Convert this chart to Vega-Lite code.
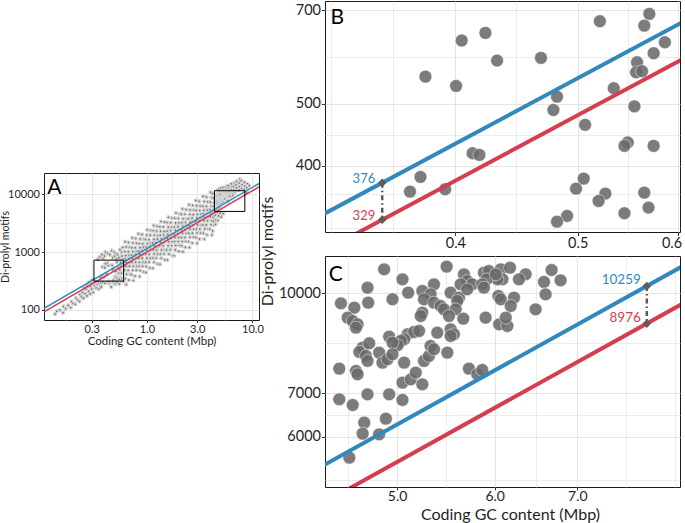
{
"$schema": "https://vega.github.io/schema/vega-lite/v6.json",
"padding": {"left": 0, "top": 0, "right": 0, "bottom": 0},
"autosize": {"type": "pad"},
"background": "white",
"config": {
  "font": "Lato",
  "view": {"stroke": "#1a1a1a", "strokeWidth": 1},
  "axis": {"domain": false, "grid": true, "gridColor": "#e4e4e4", "tickColor": "#333333", "tickWidth": 1, "labelColor": "#1f1f1f", "titleColor": "#1f1f1f", "titleFontWeight": "normal", "labelFont": "Lato", "titleFont": "Lato", "labelOverlap": false, "labelFlush": false},
  "text": {"font": "Lato"}
},
"datasets": {
  "ptsA": [
    {"x":0.135,"y":85},{"x":0.14,"y":95},{"x":0.15,"y":100},{"x":0.16,"y":90},{"x":0.162,"y":115},{"x":0.17,"y":105},{"x":0.18,"y":120},{"x":0.19,"y":110},{"x":0.193,"y":140},{"x":0.2,"y":130},{"x":0.21,"y":125},{"x":0.213,"y":160},{"x":0.22,"y":150},{"x":0.23,"y":140},{"x":0.232,"y":185},{"x":0.24,"y":170},{"x":0.25,"y":160},{"x":0.247,"y":200},{"x":0.253,"y":240},{"x":0.26,"y":190},{"x":0.264,"y":230},{"x":0.27,"y":175},{"x":0.272,"y":260},{"x":0.28,"y":210},{"x":0.283,"y":300},{"x":0.29,"y":190},{"x":0.292,"y":250},{"x":0.3,"y":230},{"x":0.297,"y":280},{"x":0.303,"y":330},{"x":0.31,"y":200},{"x":0.312,"y":300},{"x":0.32,"y":260},{"x":0.325,"y":300},{"x":0.33,"y":240},{"x":0.334,"y":290},{"x":0.34,"y":280},{"x":0.345,"y":760},{"x":0.35,"y":230},{"x":0.353,"y":300},{"x":0.357,"y":820},{"x":0.36,"y":270},{"x":0.366,"y":290},{"x":0.37,"y":250},{"x":0.374,"y":900},{"x":0.38,"y":300},{"x":0.386,"y":780},{"x":0.4,"y":290},{"x":0.396,"y":850},{"x":0.405,"y":1000},{"x":0.42,"y":300},{"x":0.425,"y":950},{"x":0.44,"y":290},{"x":0.436,"y":310},{"x":0.445,"y":900},{"x":0.46,"y":250},{"x":0.465,"y":1050},{"x":0.48,"y":300},{"x":0.475,"y":800},{"x":0.486,"y":1000},{"x":0.5,"y":280},{"x":0.495,"y":850},{"x":0.505,"y":950},{"x":0.52,"y":300},{"x":0.515,"y":760},{"x":0.526,"y":900},{"x":0.55,"y":280},{"x":0.545,"y":800},{"x":0.556,"y":1100},{"x":0.58,"y":850},{"x":0.575,"y":1000},{"x":0.6,"y":310},{"x":0.595,"y":750},{"x":0.59,"y":1200},
    {"x":0.638,"y":276},{"x":0.626,"y":348},{"x":0.643,"y":413},{"x":0.616,"y":485},{"x":0.633,"y":571},{"x":0.64,"y":656},{"x":0.624,"y":754},{"x":0.63,"y":866},{"x":0.619,"y":1017},{"x":0.636,"y":1220},{"x":0.621,"y":1502},
    {"x":0.675,"y":328},{"x":0.694,"y":413},{"x":0.665,"y":484},{"x":0.683,"y":570},{"x":0.691,"y":662},{"x":0.673,"y":762},{"x":0.68,"y":876},{"x":0.668,"y":1011},{"x":0.686,"y":1210},{"x":0.67,"y":1460},
    {"x":0.745,"y":322},{"x":0.714,"y":407},{"x":0.734,"y":483},{"x":0.742,"y":568},{"x":0.723,"y":667},{"x":0.73,"y":767},{"x":0.717,"y":882},{"x":0.737,"y":1012},{"x":0.719,"y":1189},{"x":0.739,"y":1427},{"x":0.725,"y":1756},
    {"x":0.773,"y":384},{"x":0.794,"y":484},{"x":0.803,"y":567},{"x":0.782,"y":667},{"x":0.79,"y":776},{"x":0.776,"y":892},{"x":0.797,"y":1026},{"x":0.778,"y":1184},{"x":0.799,"y":1418},{"x":0.784,"y":1710},
    {"x":0.854,"y":378},{"x":0.864,"y":478},{"x":0.842,"y":568},{"x":0.85,"y":667},{"x":0.835,"y":784},{"x":0.858,"y":901},{"x":0.837,"y":1036},{"x":0.86,"y":1189},{"x":0.844,"y":1397},{"x":0.867,"y":1676},{"x":0.831,"y":2063},
    {"x":0.935,"y":451},{"x":0.911,"y":568},{"x":0.92,"y":666},{"x":0.903,"y":784},{"x":0.928,"y":911},{"x":0.906,"y":1049},{"x":0.931,"y":1205},{"x":0.914,"y":1392},{"x":0.938,"y":1666},{"x":0.9,"y":2009},
    {"x":0.98,"y":445},{"x":0.99,"y":561},{"x":0.972,"y":667},{"x":0.999,"y":784},{"x":0.975,"y":921},{"x":1.002,"y":1059},{"x":0.983,"y":1218},{"x":1.01,"y":1398},{"x":0.968,"y":1641},{"x":0.995,"y":1970},{"x":1.006,"y":2425},
    {"x":1.07,"y":529},{"x":1.051,"y":666},{"x":1.08,"y":781},{"x":1.054,"y":919},{"x":1.083,"y":1069},{"x":1.063,"y":1229},{"x":1.091,"y":1413},{"x":1.046,"y":1632},{"x":1.075,"y":1953},{"x":1.087,"y":2355},
    {"x":1.139,"y":526},{"x":1.17,"y":664},{"x":1.143,"y":789},{"x":1.174,"y":926},{"x":1.152,"y":1089},{"x":1.183,"y":1252},{"x":1.134,"y":1440},{"x":1.166,"y":1653},{"x":1.179,"y":1941},{"x":1.148,"y":2329},{"x":1.16,"y":2867},
    {"x":1.261,"y":623},{"x":1.231,"y":786},{"x":1.265,"y":921},{"x":1.241,"y":1084},{"x":1.275,"y":1260},{"x":1.223,"y":1450},{"x":1.256,"y":1667},{"x":1.27,"y":1924},{"x":1.238,"y":2304},{"x":1.25,"y":2778},
    {"x":1.33,"y":617},{"x":1.366,"y":779},{"x":1.341,"y":926},{"x":1.377,"y":1088},{"x":1.32,"y":1279},{"x":1.357,"y":1470},{"x":1.372,"y":1691},{"x":1.337,"y":1940},{"x":1.35,"y":2279},{"x":1.326,"y":2734},{"x":1.362,"y":3366},
    {"x":1.478,"y":735},{"x":1.45,"y":926},{"x":1.489,"y":1086},{"x":1.428,"y":1278},{"x":1.467,"y":1485},{"x":1.483,"y":1709},{"x":1.445,"y":1964},{"x":1.46,"y":2268},{"x":1.434,"y":2715},{"x":1.473,"y":3274},
    {"x":1.569,"y":729},{"x":1.612,"y":920},{"x":1.545,"y":1094},{"x":1.588,"y":1285},{"x":1.605,"y":1510},{"x":1.564,"y":1736},{"x":1.58,"y":1996},{"x":1.552,"y":2292},{"x":1.594,"y":2691},{"x":1.556,"y":3229},{"x":1.599,"y":3975},
    {"x":1.744,"y":868},{"x":1.672,"y":1095},{"x":1.719,"y":1284},{"x":1.737,"y":1510},{"x":1.693,"y":1756},{"x":1.71,"y":2020},{"x":1.679,"y":2322},{"x":1.725,"y":2681},{"x":1.684,"y":3210},{"x":1.731,"y":3870},
    {"x":1.809,"y":861},{"x":1.859,"y":1087},{"x":1.88,"y":1292},{"x":1.832,"y":1518},{"x":1.85,"y":1784},{"x":1.817,"y":2051},{"x":1.867,"y":2359},{"x":1.822,"y":2707},{"x":1.872,"y":3179},{"x":1.837,"y":3815},{"x":1.887,"y":4697},
    {"x":2.01,"y":1025},{"x":2.032,"y":1292},{"x":1.98,"y":1515},{"x":2.0,"y":1782},{"x":1.964,"y":2072},{"x":2.018,"y":2384},{"x":1.97,"y":2740},{"x":2.024,"y":3164},{"x":1.986,"y":3788},{"x":2.04,"y":4567},
    {"x":2.195,"y":1015},{"x":2.138,"y":1281},{"x":2.16,"y":1523},{"x":2.121,"y":1789},{"x":2.179,"y":2103},{"x":2.128,"y":2417},{"x":2.186,"y":2780},{"x":2.145,"y":3190},{"x":2.203,"y":3746},{"x":2.112,"y":4496},{"x":2.171,"y":5535},
    {"x":2.317,"y":1210},{"x":2.34,"y":1525},{"x":2.298,"y":1788},{"x":2.361,"y":2104},{"x":2.305,"y":2446},{"x":2.368,"y":2814},{"x":2.324,"y":3235},{"x":2.387,"y":3735},{"x":2.289,"y":4471},{"x":2.352,"y":5392},
    {"x":2.53,"y":1200},{"x":2.484,"y":1514},{"x":2.553,"y":1800},{"x":2.492,"y":2114},{"x":2.56,"y":2486},{"x":2.512,"y":2857},{"x":2.581,"y":3286},{"x":2.474,"y":3771},{"x":2.543,"y":4428},{"x":2.57,"y":5314},{"x":2.505,"y":6543},
    {"x":2.691,"y":1430},{"x":2.765,"y":1803},{"x":2.699,"y":2114},{"x":2.773,"y":2487},{"x":2.721,"y":2891},{"x":2.795,"y":3327},{"x":2.68,"y":3824},{"x":2.754,"y":4415},{"x":2.784,"y":5285},{"x":2.713,"y":6373},
    {"x":2.987,"y":1417},{"x":2.916,"y":1788},{"x":2.996,"y":2125},{"x":2.939,"y":2496},{"x":3.019,"y":2935},{"x":2.895,"y":3373},{"x":2.975,"y":3879},{"x":3.007,"y":4452},{"x":2.93,"y":5228},{"x":2.96,"y":6274},{"x":2.907,"y":7724},
    {"x":3.152,"y":1685},{"x":3.238,"y":2125},{"x":3.178,"y":2491},{"x":3.264,"y":2930},{"x":3.13,"y":3407},{"x":3.216,"y":3919},{"x":3.251,"y":4505},{"x":3.168,"y":5201},{"x":3.2,"y":6227},{"x":3.142,"y":7509},
    {"x":3.502,"y":1671},{"x":3.436,"y":2109},{"x":3.529,"y":2507},{"x":3.384,"y":2944},{"x":3.477,"y":3462},{"x":3.515,"y":3979},{"x":3.425,"y":4576},{"x":3.46,"y":5252},{"x":3.398,"y":6167},{"x":3.491,"y":7401},{"x":3.408,"y":9112},
    {"x":3.714,"y":1987},{"x":3.815,"y":2506},{"x":3.658,"y":2938},{"x":3.759,"y":3456},{"x":3.8,"y":4018},{"x":3.703,"y":4622},{"x":3.74,"y":5314},{"x":3.673,"y":6134},{"x":3.774,"y":7344},{"x":3.684,"y":8856},
    {"x":4.121,"y":1969},{"x":3.951,"y":2484},{"x":4.06,"y":2953},{"x":4.105,"y":3468},{"x":4.0,"y":4078},{"x":4.04,"y":4687},{"x":3.967,"y":5390},{"x":4.076,"y":6187},{"x":3.979,"y":7265},{"x":4.088,"y":8718},{"x":4.012,"y":10733},
    {"x":4.205,"y":2303},{"x":4.32,"y":2904},{"x":4.3,"y":3405},{"x":4.257,"y":4006},{"x":4.223,"y":4657},{"x":4.339,"y":5357},{"x":4.236,"y":6159},{"x":4.3,"y":7110},{"x":4.27,"y":8512},{"x":4.214,"y":10264},
    {"x":4.47,"y":3000},{"x":4.52,"y":3600},{"x":4.44,"y":4300},{"x":4.58,"y":4900},
    {"x":4.7,"y":3500},{"x":4.78,"y":4200},{"x":4.66,"y":4800},{"x":4.75,"y":12000},
    {"x":5.05,"y":4000},{"x":4.95,"y":4700},{"x":5.02,"y":11800},{"x":4.98,"y":12600},
    {"x":5.28,"y":4600},{"x":5.35,"y":12000},{"x":5.25,"y":13000},
    {"x":5.6,"y":12500},{"x":5.66,"y":13500},
    {"x":5.93,"y":11800},{"x":6.0,"y":12800},{"x":5.9,"y":14000},
    {"x":6.28,"y":12000},{"x":6.36,"y":13500},{"x":6.3,"y":15000},
    {"x":6.7,"y":12200},{"x":6.62,"y":13500},{"x":6.75,"y":15500},
    {"x":7.05,"y":11800},{"x":7.12,"y":12800},{"x":7.0,"y":14500},{"x":7.1,"y":16500},
    {"x":7.45,"y":11800},{"x":7.55,"y":13500},{"x":7.48,"y":15500},{"x":7.6,"y":18000},
    {"x":7.9,"y":12500},{"x":8.0,"y":14500},{"x":7.85,"y":17000},
    {"x":8.35,"y":12000},{"x":8.45,"y":13800},{"x":8.4,"y":16000},
    {"x":8.9,"y":10500},{"x":8.85,"y":12800},{"x":8.95,"y":15000},
    {"x":9.3,"y":14000}
  ],
  "ptsB": [
    {"x":0.5206,"y":673.5},{"x":0.5698,"y":691.6},{"x":0.5646,"y":662.9},{"x":0.5862,"y":624.3},{"x":0.5743,"y":600.0},{"x":0.5572,"y":580.7},{"x":0.5562,"y":560.1},{"x":0.5623,"y":562.2},{"x":0.534,"y":528.7},{"x":0.4676,"y":590.0},{"x":0.4316,"y":584.3},{"x":0.4225,"y":645.7},{"x":0.4046,"y":628.1},{"x":0.3787,"y":551.4},{"x":0.4005,"y":533.2},{"x":0.4815,"y":512.9},{"x":0.4783,"y":488.9},{"x":0.5068,"y":463.4},{"x":0.5545,"y":495.3},{"x":0.5478,"y":434.8},{"x":0.5445,"y":429.5},{"x":0.5743,"y":429.5},{"x":0.4128,"y":418.3},{"x":0.4179,"y":415.8},{"x":0.3753,"y":384.0},{"x":0.3682,"y":364.2},{"x":0.3926,"y":367.3},{"x":0.5055,"y":381.7},{"x":0.4985,"y":368.1},{"x":0.5259,"y":361.6},{"x":0.5194,"y":352.1},{"x":0.5646,"y":362.8},{"x":0.569,"y":343.8},{"x":0.5445,"y":336.8},{"x":0.4904,"y":333.6},{"x":0.4815,"y":326.8}
  ],
  "ptsC": [
    {"x":4.881,"y":10891},{"x":5.485,"y":10996},{"x":5.665,"y":10699},{"x":5.88,"y":10763},{"x":5.935,"y":10827},{"x":6.068,"y":10891},{"x":6.174,"y":10957},{"x":6.087,"y":10510},{"x":6.031,"y":10510},{"x":6.356,"y":10699},{"x":6.278,"y":10510},{"x":6.672,"y":10865},{"x":6.785,"y":10473},{"x":6.578,"y":10411},{"x":5.051,"y":10510},{"x":5.7,"y":10448},{"x":5.63,"y":10325},{"x":5.754,"y":10325},{"x":5.357,"y":10325},{"x":5.91,"y":10510},{"x":5.862,"y":10325},{"x":6.012,"y":10699},
    {"x":4.732,"y":10203},{"x":5.105,"y":10023},{"x":5.242,"y":10082},{"x":5.323,"y":9963},{"x":5.526,"y":10023},{"x":5.613,"y":9846},{"x":5.7,"y":10142},{"x":5.88,"y":10203},{"x":6.042,"y":9904},{"x":6.068,"y":9788},{"x":6.22,"y":9846},{"x":6.182,"y":9558},{"x":6.598,"y":9963},{"x":6.476,"y":9445},{"x":4.503,"y":9649},{"x":4.617,"y":9501},{"x":4.738,"y":9672},{"x":4.958,"y":9788},{"x":5.258,"y":9788},{"x":5.357,"y":9672},{"x":5.424,"y":9558},{"x":5.458,"y":9445},{"x":5.595,"y":9730},{"x":5.578,"y":9445},
    {"x":4.56,"y":9169},{"x":4.603,"y":9061},{"x":4.645,"y":8954},{"x":4.631,"y":8848},{"x":5.242,"y":9333},{"x":5.226,"y":9223},{"x":5.509,"y":9223},{"x":5.658,"y":9137},{"x":5.899,"y":9169},{"x":6.05,"y":8954},{"x":6.144,"y":8901},{"x":6.125,"y":9169},{"x":5.39,"y":8693},{"x":5.526,"y":8796},{"x":5.56,"y":8642},{"x":5.526,"y":8590},{"x":5.099,"y":8642},{"x":5.162,"y":8713},{"x":5.21,"y":8744},{"x":4.927,"y":8570},{"x":5.067,"y":8489},{"x":5.036,"y":8439},{"x":5.005,"y":8310},{"x":4.958,"y":8389},
    {"x":4.689,"y":8241},{"x":4.747,"y":8369},{"x":4.66,"y":8115},{"x":4.718,"y":8000},{"x":4.732,"y":7859},{"x":4.836,"y":8096},{"x":4.866,"y":7812},{"x":4.912,"y":7906},{"x":4.958,"y":8048},{"x":5.067,"y":7812},{"x":5.258,"y":7859},{"x":5.307,"y":8000},{"x":5.323,"y":8290},{"x":5.357,"y":8193},{"x":5.492,"y":8096},{"x":4.489,"y":7647},{"x":4.631,"y":7584},{"x":4.645,"y":7495},{"x":5.051,"y":7274},{"x":5.13,"y":7361},{"x":5.178,"y":7539},{"x":5.242,"y":7231},{"x":5.718,"y":7647},{"x":5.808,"y":7495},{"x":5.862,"y":7611},
    {"x":4.732,"y":6978},{"x":4.927,"y":6978},{"x":5.051,"y":6839},{"x":4.489,"y":6855},{"x":4.603,"y":6718},{"x":4.703,"y":6308},{"x":4.689,"y":6066},{"x":4.897,"y":6398},{"x":4.836,"y":6051},{"x":4.574,"y":5569}
  ],
  "fits": [
    {"panel":"A","series":"upper","x":0.1,"y":99.9},{"panel":"A","series":"upper","x":12,"y":15825},
    {"panel":"A","series":"lower","x":0.1,"y":87.4},{"panel":"A","series":"lower","x":12,"y":13845},
    {"panel":"B","series":"upper","x":0.3,"y":319.4},{"panel":"B","series":"upper","x":0.62,"y":688.5},
    {"panel":"B","series":"lower","x":0.3,"y":279.5},{"panel":"B","series":"lower","x":0.62,"y":602.3},
    {"panel":"C","series":"upper","x":4.3,"y":5342},{"panel":"C","series":"upper","x":8.6,"y":11122},
    {"panel":"C","series":"lower","x":4.3,"y":4674},{"panel":"C","series":"lower","x":8.6,"y":9732}
  ],
  "boxes": [
    {"x":0.3153,"x2":0.6026,"y":314.8,"y2":724.4},
    {"x":4.371,"x2":8.479,"y":5016,"y2":11420}
  ],
  "ann": [
    {"panel":"B","series":"upper","x":0.35,"y":376,"label":"376"},
    {"panel":"B","series":"lower","x":0.35,"y":329,"label":"329"},
    {"panel":"C","series":"upper","x":7.97,"y":10259,"label":"10259"},
    {"panel":"C","series":"lower","x":7.97,"y":8976,"label":"8976"}
  ],
  "conn": [
    {"panel":"B","x":0.35,"y":376,"y2":329},
    {"panel":"C","x":7.97,"y":10259,"y2":8976}
  ],
  "letters": [
    {"panel":"A","x":0.1141,"y":20070,"label":"A"},
    {"panel":"B","x":0.3185,"y":708,"label":"B"},
    {"panel":"C","x":4.401,"y":11107,"label":"C"}
  ]
},
"hconcat": [
  {
    "vconcat": [
      {"width": 10, "height": 170.5, "data": {"values": []}, "mark": "point", "encoding": {}, "view": {"stroke": null}},
      {
        "width": 215, "height": 147,
        "encoding": {
          "x": {"field": "x", "type": "quantitative",
            "scale": {"type": "log", "domain": [0.106, 11.55], "nice": false},
            "axis": {"values": [0.173, 0.3, 0.548, 1, 1.73, 3, 5.48, 10],
              "labelExpr": "indexof([0.3,1,3,10], datum.value) >= 0 ? format(datum.value, '.1f') : ''",
              "title": "Coding GC content (Mbp)", "titleFontSize": 11.5, "labelFontSize": 11,
              "tickSize": 2.5, "labelPadding": 1, "titlePadding": 1,
              "tickOpacity": {"condition": {"test": "indexof([0.3,1,3,10], datum.value) >= 0", "value": 1}, "value": 0},
              "gridWidth": {"condition": {"test": "indexof([0.3,1,3,10], datum.value) >= 0", "value": 0.9}, "value": 0.6}}},
          "y": {"field": "y", "type": "quantitative",
            "scale": {"type": "log", "domain": [67.2, 23070], "nice": false},
            "axis": {"values": [100, 316.2, 1000, 3162, 10000],
              "labelExpr": "indexof([100,1000,10000], datum.value) >= 0 ? format(datum.value, 'd') : ''",
              "title": "Di-prolyl motifs", "titleFontSize": 10.5, "labelFontSize": 11,
              "tickSize": 2.5, "labelPadding": 2, "titlePadding": -3,
              "tickOpacity": {"condition": {"test": "indexof([100,1000,10000], datum.value) >= 0", "value": 1}, "value": 0},
              "gridWidth": {"condition": {"test": "indexof([100,1000,10000], datum.value) >= 0", "value": 0.9}, "value": 0.6}}}
        },
        "layer": [
          {"data": {"name": "ptsA"}, "mark": {"type": "point", "filled": true, "size": 9, "fill": "#686868", "stroke": "#d2d2d2", "strokeWidth": 1.4, "opacity": 1, "clip": true}},
          {"data": {"name": "ptsB"}, "mark": {"type": "point", "filled": true, "size": 9, "fill": "#686868", "stroke": "#d2d2d2", "strokeWidth": 1.4, "opacity": 1, "clip": true}},
          {"data": {"name": "ptsC"}, "mark": {"type": "point", "filled": true, "size": 9, "fill": "#686868", "stroke": "#d2d2d2", "strokeWidth": 1.4, "opacity": 1, "clip": true}},
          {"data": {"name": "fits"}, "transform": [{"filter": "datum.panel === 'A'"}],
           "mark": {"type": "line", "strokeWidth": 1.5, "clip": true},
           "encoding": {"color": {"field": "series", "type": "nominal", "scale": {"domain": ["upper", "lower"], "range": ["#3288BD", "#D53E4F"]}, "legend": null}}},
          {"data": {"name": "boxes"}, "mark": {"type": "rect", "fillOpacity": 0, "stroke": "#000000", "strokeWidth": 1},
           "encoding": {"x2": {"field": "x2"}, "y2": {"field": "y2"}}},
          {"data": {"name": "letters"}, "transform": [{"filter": "datum.panel === 'A'"}],
           "mark": {"type": "text", "align": "left", "baseline": "top", "fontSize": 21, "color": "#000000"},
           "encoding": {"text": {"field": "label"}}}
        ]
      }
    ],
    "spacing": 0, "align": "each"
  },
  {
    "vconcat": [
      {
        "width": 355, "height": 231,
        "encoding": {
          "x": {"field": "x", "type": "quantitative",
            "scale": {"type": "log", "domain": [0.3153, 0.6026], "nice": false},
            "axis": {"values": [0.319, 0.357, 0.4, 0.447, 0.5, 0.548, 0.6],
              "labelExpr": "indexof([0.4,0.5,0.6], datum.value) >= 0 ? format(datum.value, '.1f') : ''",
              "title": null, "labelFontSize": 14.5, "tickSize": 3.5, "labelPadding": 1,
              "labelAlign": {"condition": {"test": "datum.value >= 0.59", "value": "right"}, "value": "center"},
              "labelOffset": {"condition": {"test": "datum.value >= 0.59", "value": 4}, "value": 0},
              "tickOpacity": {"condition": {"test": "indexof([0.4,0.5,0.6], datum.value) >= 0", "value": 1}, "value": 0},
              "gridWidth": {"condition": {"test": "indexof([0.4,0.5,0.6], datum.value) >= 0", "value": 1}, "value": 0.7}}},
          "y": {"field": "y", "type": "quantitative",
            "scale": {"type": "log", "domain": [314.8, 724.4], "nice": false},
            "axis": {"values": [319, 361, 400, 447, 500, 592, 700],
              "labelExpr": "indexof([400,500,700], datum.value) >= 0 ? format(datum.value, 'd') : ''",
              "title": null, "labelFontSize": 14.5, "tickSize": 3.5, "labelPadding": 1,
              "tickOpacity": {"condition": {"test": "indexof([400,500,700], datum.value) >= 0", "value": 1}, "value": 0},
              "gridWidth": {"condition": {"test": "indexof([400,500,700], datum.value) >= 0", "value": 1}, "value": 0.7}}}
        },
        "layer": [
          {"data": {"name": "ptsB"}, "mark": {"type": "point", "filled": true, "size": 165, "fill": "#6a6a6a", "fillOpacity": 0.88, "stroke": "#ffffff", "strokeWidth": 0.8, "strokeOpacity": 0.6, "clip": true}},
          {"data": {"name": "fits"}, "transform": [{"filter": "datum.panel === 'B'"}],
           "mark": {"type": "line", "strokeWidth": 4, "clip": true},
           "encoding": {"color": {"field": "series", "type": "nominal", "scale": {"domain": ["upper", "lower"], "range": ["#3288BD", "#D53E4F"]}, "legend": null}}},
          {"data": {"name": "conn"}, "transform": [{"filter": "datum.panel === 'B'"}],
           "mark": {"type": "rule", "stroke": "#5c5c5c", "strokeWidth": 2.5, "strokeDash": [5, 3, 1.5, 3]},
           "encoding": {"y2": {"field": "y2"}}},
          {"data": {"name": "ann"}, "transform": [{"filter": "datum.panel === 'B'"}],
           "mark": {"type": "point", "shape": "diamond", "filled": true, "size": 75, "fill": "#5c5c5c", "opacity": 1}},
          {"data": {"name": "ann"}, "transform": [{"filter": "datum.panel === 'B'"}],
           "mark": {"type": "text", "align": "right", "baseline": "middle", "dx": -7, "dy": -4, "fontSize": 13},
           "encoding": {"text": {"field": "label"}, "color": {"field": "series", "type": "nominal", "scale": {"domain": ["upper", "lower"], "range": ["#3288BD", "#D53E4F"]}, "legend": null}}},
          {"data": {"name": "letters"}, "transform": [{"filter": "datum.panel === 'B'"}],
           "mark": {"type": "text", "align": "left", "baseline": "top", "fontSize": 21, "color": "#000000"},
           "encoding": {"text": {"field": "label"}}}
        ]
      },
      {
        "width": 355, "height": 231,
        "encoding": {
          "x": {"field": "x", "type": "quantitative",
            "scale": {"type": "log", "domain": [4.371, 8.479], "nice": false},
            "axis": {"values": [4.56, 5, 5.48, 6, 6.48, 7, 7.67, 8.4],
              "labelExpr": "indexof([5,6,7], datum.value) >= 0 ? format(datum.value, '.1f') : ''",
              "title": "Coding GC content (Mbp)", "titleFontSize": 16, "titlePadding": 3, "titleX": 185,
              "labelFontSize": 14, "tickSize": 3, "labelPadding": -0.5,
              "tickOpacity": {"condition": {"test": "indexof([5,6,7], datum.value) >= 0", "value": 1}, "value": 0},
              "gridWidth": {"condition": {"test": "indexof([5,6,7], datum.value) >= 0", "value": 1}, "value": 0.7}}},
          "y": {"field": "y", "type": "quantitative",
            "scale": {"type": "log", "domain": [5016, 11420], "nice": false},
            "axis": {"values": [5143, 6000, 6481, 7000, 8369, 10000],
              "labelExpr": "indexof([6000,7000,10000], datum.value) >= 0 ? format(datum.value, 'd') : ''",
              "title": "Di-prolyl motifs", "titleFontSize": 16, "titleY": -5, "titlePadding": 3,
              "labelFontSize": 14.5, "tickSize": 3.5, "labelPadding": 1,
              "tickOpacity": {"condition": {"test": "indexof([6000,7000,10000], datum.value) >= 0", "value": 1}, "value": 0},
              "gridWidth": {"condition": {"test": "indexof([6000,7000,10000], datum.value) >= 0", "value": 1}, "value": 0.7}}}
        },
        "layer": [
          {"data": {"name": "ptsC"}, "mark": {"type": "point", "filled": true, "size": 165, "fill": "#6a6a6a", "fillOpacity": 0.88, "stroke": "#ffffff", "strokeWidth": 0.8, "strokeOpacity": 0.6, "clip": true}},
          {"data": {"name": "fits"}, "transform": [{"filter": "datum.panel === 'C'"}],
           "mark": {"type": "line", "strokeWidth": 4, "clip": true},
           "encoding": {"color": {"field": "series", "type": "nominal", "scale": {"domain": ["upper", "lower"], "range": ["#3288BD", "#D53E4F"]}, "legend": null}}},
          {"data": {"name": "conn"}, "transform": [{"filter": "datum.panel === 'C'"}],
           "mark": {"type": "rule", "stroke": "#5c5c5c", "strokeWidth": 2.5, "strokeDash": [5, 3, 1.5, 3]},
           "encoding": {"y2": {"field": "y2"}}},
          {"data": {"name": "ann"}, "transform": [{"filter": "datum.panel === 'C'"}],
           "mark": {"type": "point", "shape": "diamond", "filled": true, "size": 75, "fill": "#5c5c5c", "opacity": 1}},
          {"data": {"name": "ann"}, "transform": [{"filter": "datum.panel === 'C'"}],
           "mark": {"type": "text", "align": "right", "baseline": "middle", "dx": -6, "dy": -6, "fontSize": 13.5},
           "encoding": {"text": {"field": "label"}, "color": {"field": "series", "type": "nominal", "scale": {"domain": ["upper", "lower"], "range": ["#3288BD", "#D53E4F"]}, "legend": null}}},
          {"data": {"name": "letters"}, "transform": [{"filter": "datum.panel === 'C'"}],
           "mark": {"type": "text", "align": "left", "baseline": "top", "fontSize": 21, "color": "#000000"},
           "encoding": {"text": {"field": "label"}}}
        ]
      }
    ],
    "spacing": 24, "bounds": "flush", "align": "each"
  }
],
"spacing": -6,
"align": "each"
}
